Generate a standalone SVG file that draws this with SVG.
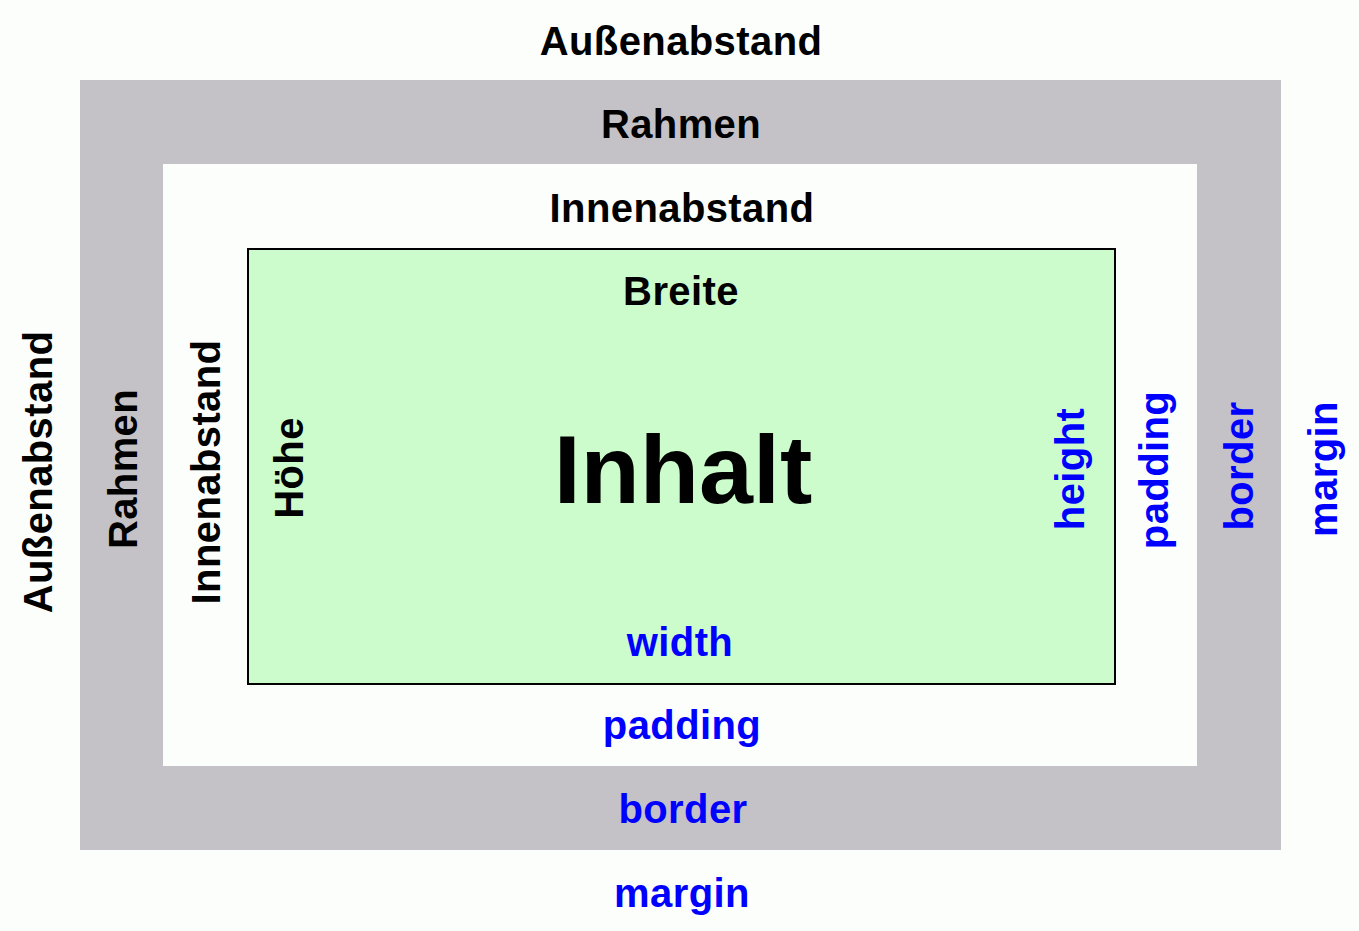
<svg xmlns="http://www.w3.org/2000/svg" width="1359" height="931" viewBox="0 0 1359 931">
  <style>
    .t { font-family: "Liberation Sans", Arial, sans-serif; font-weight: bold; font-size: 40px; text-anchor: middle; letter-spacing: 0.4px; }
    .de { fill: #000000; }
    .en { fill: #0000ff; }
    .big { font-size: 97px; letter-spacing: 0; }
  </style>
  <rect x="0" y="0" width="1359" height="931" fill="#fcfefc"/>
  <g id="margin-box">
    <text class="t de" x="681" y="55">Außenabstand</text>
    <text class="t en" x="682" y="907">margin</text>
    <text class="t de" transform="translate(52,472) rotate(-90)">Außenabstand</text>
    <text class="t en" transform="translate(1337,469) rotate(-90)">margin</text>
  </g>
  <g id="border-box">
    <rect x="80" y="80" width="1201" height="770" fill="#c4c2c6"/>
    <text class="t de" x="681" y="138">Rahmen</text>
    <text class="t en" x="683" y="823">border</text>
    <text class="t de" transform="translate(137,469) rotate(-90)">Rahmen</text>
    <text class="t en" transform="translate(1253,466) rotate(-90)">border</text>
  </g>
  <g id="padding-box">
    <rect x="163" y="164" width="1034" height="602" fill="#fcfefc"/>
    <text class="t de" x="682" y="222">Innenabstand</text>
    <text class="t en" x="682" y="739">padding</text>
    <text class="t de" transform="translate(220,472) rotate(-90)">Innenabstand</text>
    <text class="t en" transform="translate(1168,470) rotate(-90)">padding</text>
  </g>
  <g id="content-box">
    <rect x="248" y="249" width="867" height="435" fill="#ccfccc" stroke="#000000" stroke-width="2"/>
    <text class="t de" x="681" y="305">Breite</text>
    <text class="t en" x="680" y="656">width</text>
    <text class="t de" transform="translate(303,468) rotate(-90)">Höhe</text>
    <text class="t en" transform="translate(1084,469) rotate(-90)">height</text>
    <text class="t de big" x="683" y="503">Inhalt</text>
  </g>
  <g id="connectors"></g>
</svg>
